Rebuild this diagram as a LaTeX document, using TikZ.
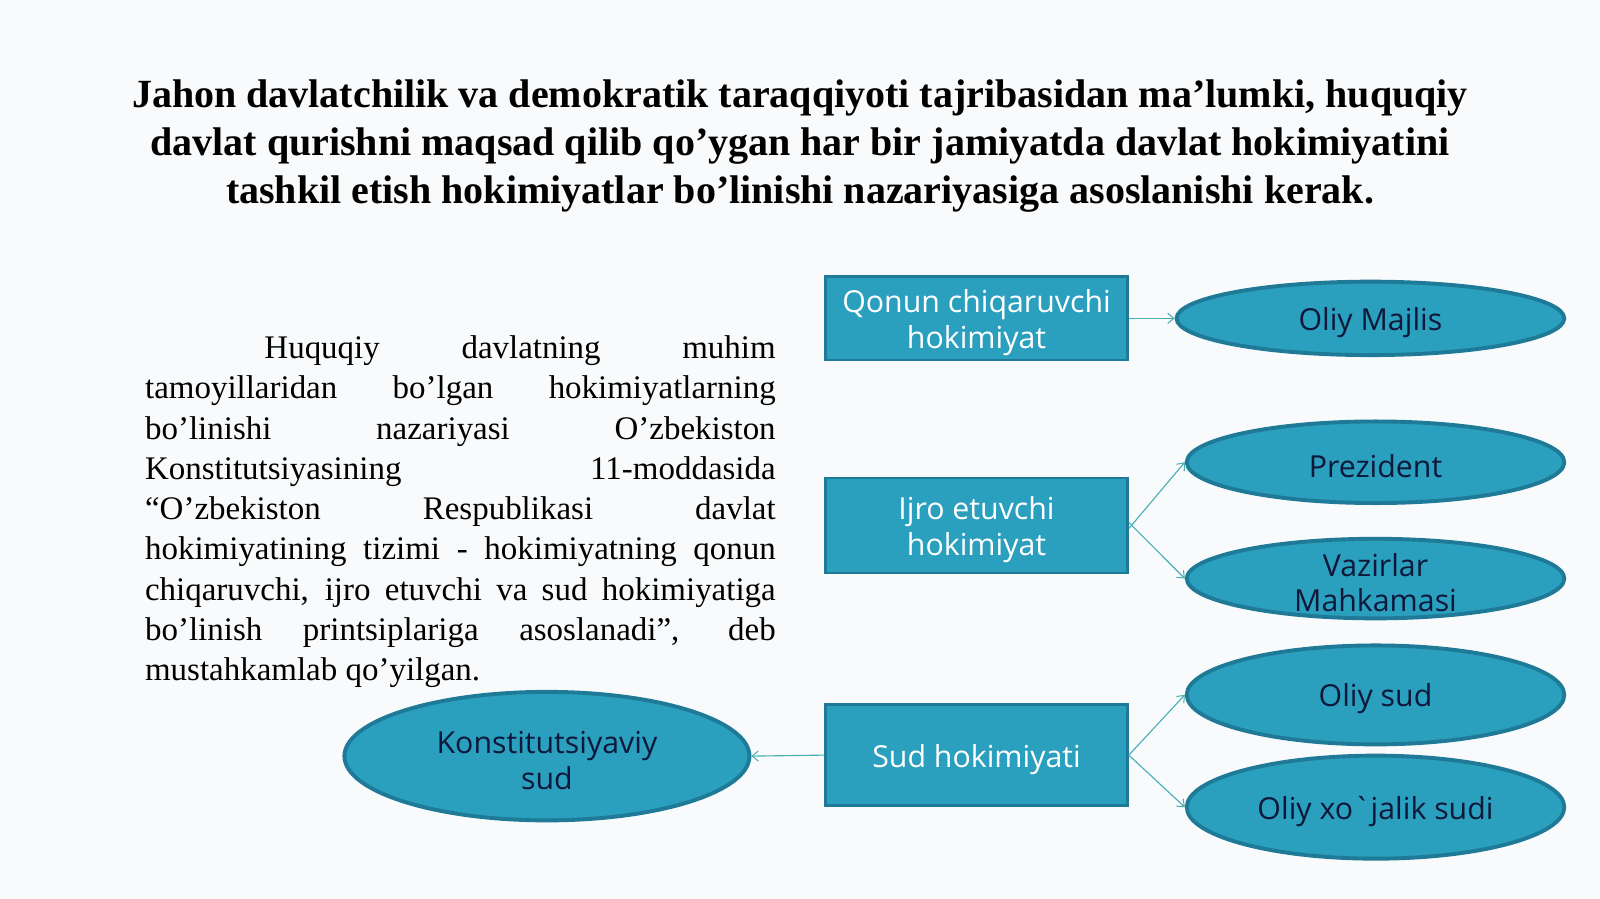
\documentclass[tikz,border=0pt]{standalone}
\usepackage{fontspec}
\setmainfont{Liberation Serif}
\newfontfamily\opensans{Open Sans}
\usetikzlibrary{shapes.geometric,arrows.meta}
\definecolor{bgc}{RGB}{249,250,251}
\definecolor{tealfill}{RGB}{42,159,190}
\definecolor{tealedge}{RGB}{30,122,150}
\definecolor{navytext}{RGB}{14,24,58}
\definecolor{linec}{RGB}{70,175,180}
\tikzset{
  boxnode/.style={draw=tealedge, line width=2.5pt, fill=tealfill, minimum width=296pt, inner sep=0pt},
  boxlabel/.style={text=white, font=\opensans\fontsize{29.7}{35}\selectfont, align=center, yshift=-4pt},
  ellnode/.style={ellipse, draw=tealedge, line width=3.8pt, fill=tealfill, inner sep=0pt},
  elllabel/.style={text=navytext, font=\opensans\fontsize{29.7}{35}\selectfont, align=center, yshift=-4pt},
  conn/.style={draw=linec, line width=1.1pt, -{Straight Barb[length=6pt,width=10pt,line width=1pt]}},
}
\begin{document}
\begin{tikzpicture}[x=1pt,y=-1pt]
\useasboundingbox[fill=bgc] (0,0) rectangle (1568,881);

\node[font=\bfseries\fontsize{39.2}{47}\selectfont, align=center, inner sep=0pt] (title) at (784,143.5)
 {Jahon davlatchilik va demokratik taraqqiyoti tajribasidan ma’lumki, huquqiy\\
  davlat qurishni maqsad qilib qo’ygan har bir jamiyatda davlat hokimiyatini\\
  tashkil etish hokimiyatlar bo’linishi nazariyasiga asoslanishi kerak.};

\node[anchor=north west, inner sep=0pt, text width=618pt, align=justify, font=\fontsize{32.3}{39.4}\selectfont] (para) at (142,329)
 {\parindent=117pt\indent Huquqiy davlatning muhim\linebreak
  tamoyillaridan bo’lgan hokimiyatlarning\linebreak
  bo’linishi nazariyasi O’zbekiston\linebreak
  Konstitutsiyasining 11-moddasida\linebreak
  “O’zbekiston Respublikasi davlat\linebreak
  hokimiyatining tizimi - hokimiyatning qonun\linebreak
  chiqaruvchi, ijro etuvchi va sud hokimiyatiga\linebreak
  bo’linish printsiplariga asoslanadi”, deb\linebreak
  mustahkamlab qo’yilgan.\par};

\node[boxnode, minimum height=82pt, label={[boxlabel]center:Qonun chiqaruvchi\\hokimiyat}] (qonun) at (957,312) {};
\node[boxnode, minimum height=93pt, label={[boxlabel]center:Ijro etuvchi\\hokimiyat}] (ijro) at (957,515) {};
\node[boxnode, minimum height=99pt, label={[boxlabel]center:Sud hokimiyati}] (sud) at (957,740) {};

\node[ellnode, minimum width=380pt, minimum height=72pt, label={[elllabel]center:Oliy Majlis}] (majlis) at (1343,312) {};
\node[ellnode, minimum width=370pt, minimum height=80pt, label={[elllabel]center:Prezident}] (prez) at (1348,453) {};
\node[ellnode, minimum width=370pt, minimum height=78pt, label={[elllabel]center:Vazirlar\\Mahkamasi}] (vazir) at (1348,567) {};
\node[ellnode, minimum width=370pt, minimum height=97pt, label={[elllabel]center:Oliy sud}] (oliysud) at (1348,681) {};
\node[ellnode, minimum width=370pt, minimum height=101pt, label={[elllabel]center:Oliy xo`jalik sudi}] (xojalik) at (1348,791) {};
\node[ellnode, minimum width=397pt, minimum height=126pt, label={[elllabel]center:Konstitutsiyaviy\\sud}] (konst) at (536,741) {};

\draw[conn] (qonun.east) -- (majlis.west);
\draw[conn] ([yshift=-3pt]ijro.east) -- (prez.west);
\draw[conn] ([yshift=3pt]ijro.east) -- (vazir.west);
\draw[conn] (sud.east) -- (oliysud.west);
\draw[conn] (sud.east) -- (xojalik.west);
\draw[conn] (sud.west) -- (konst.east);
\end{tikzpicture}
\end{document}
